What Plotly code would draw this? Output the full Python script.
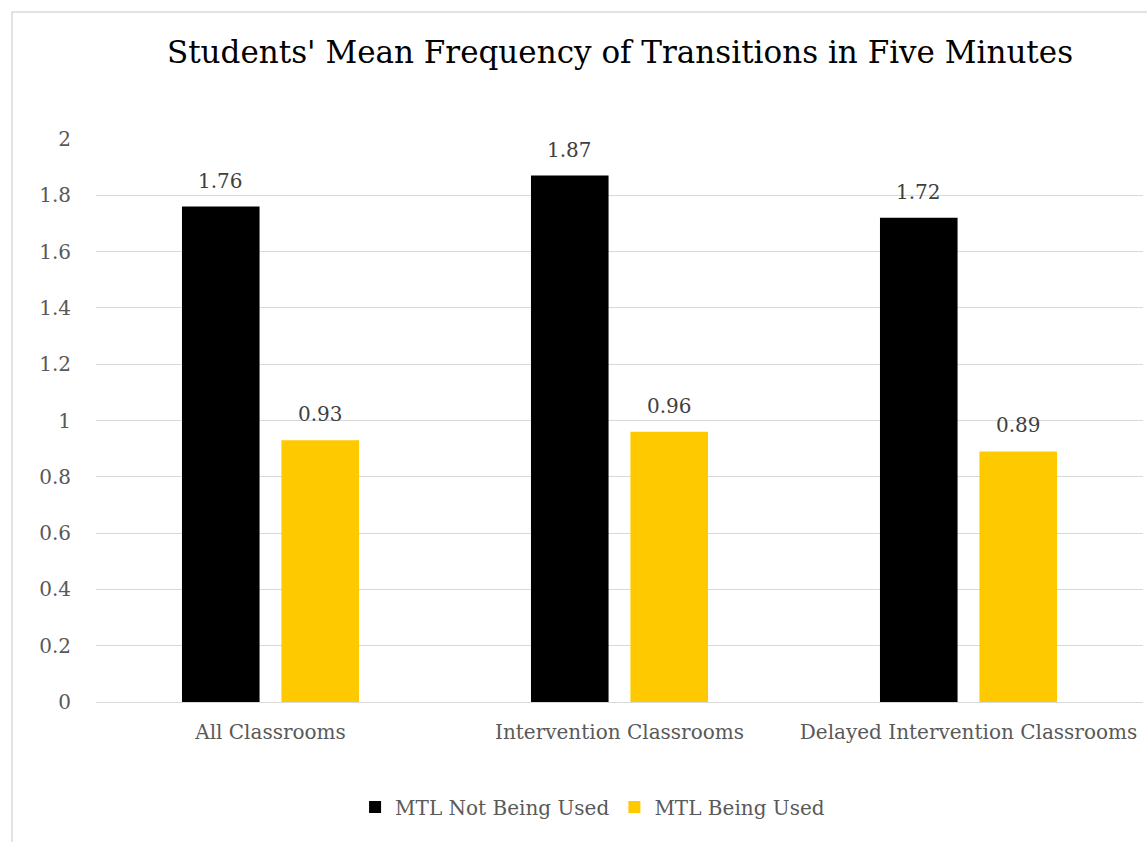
import plotly.graph_objects as go

categories = ["All Classrooms", "Intervention Classrooms", "Delayed Intervention Classrooms"]
not_used = [1.76, 1.87, 1.72]
being_used = [0.93, 0.96, 0.89]
series_names = ["MTL Not Being Used", "MTL Being Used"]
series_colors = ["#000000", "#FFC900"]
y_ticks = [0, 0.2, 0.4, 0.6, 0.8, 1, 1.2, 1.4, 1.6, 1.8, 2]

FONT = "DejaVu Serif"
W, H = 1147, 842
L, R, T, B = 96, 4, 139, 140
pw, ph = W - L - R, H - T - B

fig = go.Figure()
for name, vals, color in zip(series_names, [not_used, being_used], series_colors):
    fig.add_trace(go.Bar(
        name=name, x=categories, y=vals,
        marker=dict(color=color, line=dict(width=0)),
    ))

# value labels above each bar
slot_px = pw / 3 * (1 - 0.43) / 2
annotations = []
for i, vals in enumerate([not_used, being_used]):
    shift = (i - 0.5) * slot_px
    for c, v in zip(categories, vals):
        annotations.append(dict(
            x=c, y=v, xref="x", yref="y", text=f"{v:.2f}", showarrow=False,
            xshift=shift, yanchor="bottom", yshift=12,
            font=dict(family=FONT, size=20, color="#404040"),
        ))

fig.update_layout(
    width=W, height=H,
    margin=dict(l=L, r=R, t=T, b=B),
    paper_bgcolor="white", plot_bgcolor="white",
    barmode="group", bargap=0.43, bargroupgap=0.22,
    font=dict(family=FONT, color="#595959", size=20),
    title=dict(
        text="Students' Mean Frequency of Transitions in Five Minutes",
        x=(620 / W), xanchor="center", y=1 - 52 / H, yanchor="middle",
        font=dict(family=FONT, size=31, color="#000000"),
    ),
    yaxis=dict(
        range=[0, 2], tickvals=y_ticks, showgrid=True, gridcolor="#D9D9D9",
        gridwidth=1.3, zeroline=False, showline=False,
        ticks="outside", ticklen=20, tickcolor="rgba(0,0,0,0)",
        tickfont=dict(family=FONT, size=20, color="#595959"),
    ),
    xaxis=dict(
        showline=True, linecolor="#D9D9D9", linewidth=1.3,
        ticks="outside", ticklen=12, tickcolor="rgba(0,0,0,0)",
        tickfont=dict(family=FONT, size=20, color="#595959"),
    ),
    legend=dict(
        orientation="h", x=544 / W, xanchor="center", xref="paper",
        y=-(807 - (T + ph)) / ph, yanchor="middle",
        font=dict(family=FONT, size=20, color="#595959"),
        itemwidth=30, traceorder="normal",
    ),
    annotations=annotations,
    shapes=[dict(
        type="rect", xref="paper", yref="paper",
        x0=(12 - L) / pw, x1=(W + 10 - L) / pw,
        y0=-(H + 10 - (T + ph)) / ph, y1=(T + ph - 12) / ph,
        line=dict(color="#D9D9D9", width=1.5), fillcolor="rgba(0,0,0,0)",
        layer="below",
    )],
    showlegend=True,
)

fig.write_html("out.html")
